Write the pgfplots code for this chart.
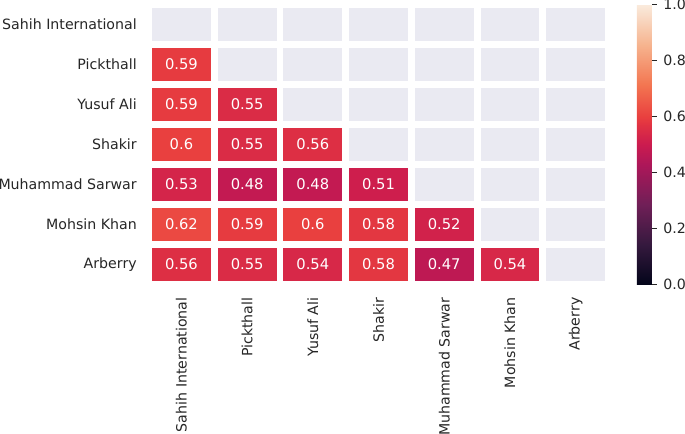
\documentclass[border=0pt]{standalone}
\usepackage{fontspec}
\setmainfont{DejaVu Sans}
\usepackage{pgfplots}
\pgfplotsset{compat=1.18}
\usepackage{pgfplotstable}

\definecolor{txt}{RGB}{38,38,38}
\definecolor{maskgray}{RGB}{234,234,242}

% one heatmap cell, a bit smaller than the cell pitch so white gaps remain
\pgfdeclareplotmark{cell}{%
  \pgfpathrectangle{\pgfpoint{-21.15pt}{-11.88pt}}{\pgfpoint{42.3pt}{23.76pt}}%
  \pgfusepath{fill}}

% lower triangle: x = column+0.5, y = row+0.5 (rows from top)
\pgfplotstableread{
x y v
0.5 1.5 0.59
0.5 2.5 0.59
1.5 2.5 0.55
0.5 3.5 0.6
1.5 3.5 0.55
2.5 3.5 0.56
0.5 4.5 0.53
1.5 4.5 0.48
2.5 4.5 0.48
3.5 4.5 0.51
0.5 5.5 0.62
1.5 5.5 0.59
2.5 5.5 0.6
3.5 5.5 0.58
4.5 5.5 0.52
0.5 6.5 0.56
1.5 6.5 0.55
2.5 6.5 0.54
3.5 6.5 0.58
4.5 6.5 0.47
5.5 6.5 0.54
}\lowtri

% masked cells (upper triangle and diagonal)
\pgfplotstableread{
x y
0.5 0.5
1.5 0.5
2.5 0.5
3.5 0.5
4.5 0.5
5.5 0.5
6.5 0.5
1.5 1.5
2.5 1.5
3.5 1.5
4.5 1.5
5.5 1.5
6.5 1.5
2.5 2.5
3.5 2.5
4.5 2.5
5.5 2.5
6.5 2.5
3.5 3.5
4.5 3.5
5.5 3.5
6.5 3.5
4.5 4.5
5.5 4.5
6.5 4.5
5.5 5.5
6.5 5.5
6.5 6.5
}\masked

\begin{document}
\begin{tikzpicture}
\begin{axis}[
  name=hm,
  scale only axis,
  width=331.1pt, height=201.6pt,
  xmin=0, xmax=7, ymin=0, ymax=7,
  y dir=reverse,
  clip=false,
  axis line style={draw=none},
  major tick length=0pt,
  xtick={0.5,1.5,2.5,3.5,4.5,5.5,6.5},
  ytick={0.5,1.5,2.5,3.5,4.5,5.5,6.5},
  xticklabels={Sahih International, Pickthall, Yusuf Ali, Shakir, Muhammad Sarwar, Mohsin Khan, Arberry},
  yticklabels={Sahih International, Pickthall, Yusuf Ali, Shakir, Muhammad Sarwar, Mohsin Khan, Arberry},
  xticklabel style={rotate=90, anchor=east, inner sep=0pt},
  xticklabel shift=9.2pt,
  yticklabel style={anchor=east, inner sep=0pt},
  yticklabel shift=8.35pt,
  ticklabel style={font=\fontsize{10.2}{12}\selectfont, text=txt},
  % seaborn "rocket", positions in sevenths of the 0..1 range
  colormap={rocket}{rgb255(0)=(3,5,26) rgb255(1)=(53,25,62) rgb255(2)=(112,31,87)
    rgb255(3)=(173,23,89) rgb255(3.5)=(203,27,79) rgb255(4)=(225,51,66)
    rgb255(4.2)=(233,64,63) rgb255(5)=(243,118,81) rgb255(6)=(246,180,143)
    rgb255(7)=(250,235,221)},
  point meta min=0, point meta max=1,
  colorbar,
  colorbar style={
    at={(parent axis.north east)}, anchor=north west, xshift=11.9pt,
    scale only axis, width=10.8pt, height=201.6pt,
    axis line style={draw=none},
    ytick={0,0.2,0.4,0.6,0.8,1},
    ytick pos=right,
    tick align=outside,
    major tick length=3.5pt,
    ytick style={draw=txt, line width=0.9pt},
    yticklabel style={anchor=west, inner sep=0pt, xshift=4.6pt,
      font=\fontsize{10.2}{12}\selectfont, text=txt,
      /pgf/number format/fixed, /pgf/number format/fixed zerofill,
      /pgf/number format/precision=1,
      /pgf/number format/assume math mode=true},
  },
]
% masked cells
\addplot[only marks, mark=cell, fill=maskgray, draw=none] table[x=x, y=y] {\masked};
% coloured cells
\addplot[scatter, only marks, mark=cell, point meta=explicit,
  scatter/@pre marker code/.code={%
    \expandafter\pgfplotscolormapdefinemappedcolor\expandafter{\pgfplotspointmetatransformed}%
    \pgfsetfillcolor{mapped color}},
  scatter/@post marker code/.code={}]
  table[x=x, y=y, meta=v] {\lowtri};
% annotations
\addplot[draw=none, mark=none, point meta=explicit,
  nodes near coords,
  nodes near coords align=center,
  every node near coord/.append style={anchor=center, text=white,
    font=\fontsize{10.6}{12}\selectfont,
    /pgf/number format/assume math mode=true}]
  table[x=x, y=y, meta=v] {\lowtri};
\end{axis}
\pgfresetboundingbox
\path ([xshift=-107.0pt, yshift=3.24pt]hm.north west) rectangle ++(493.2pt,-311.76pt);
\end{tikzpicture}
\end{document}
